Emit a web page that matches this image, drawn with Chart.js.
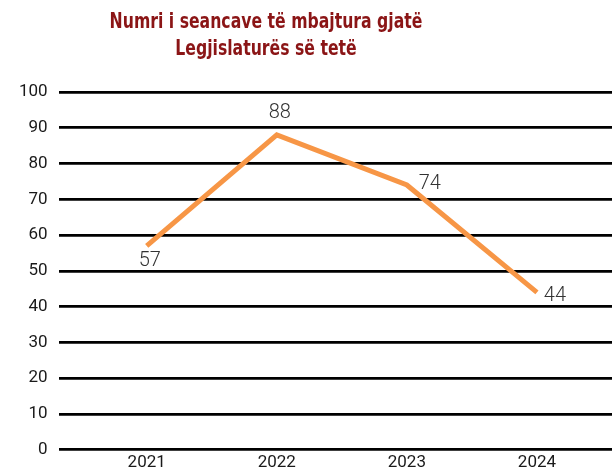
<!DOCTYPE html>
<html lang="sq">

<head>
  <meta charset="UTF-8">
  <title> Seancat | Legjislatura e tetë </title>
  <style>
    body { margin: 0; background: #fff; }
    .wrap { position: relative; width: 615px; height: 471px; }
    .titulli {
      position: absolute; left: 0; top: 8px; width: 532px;
      text-align: center; color: #8b1516;
      font-family: 'DejaVu Sans Condensed', Roboto, sans-serif;
      font-weight: bold; font-size: 21px; line-height: 27px;
      transform: scaleX(0.83); transform-origin: 50% 50%;
    }
    canvas { position: absolute; left: 0; top: 0; }
  </style>
</head>

<body>
  <div class="wrap">
    <canvas id="grafiku" width="615" height="471"></canvas>
    <div class="titulli">Numri i seancave të mbajtura gjatë<br>Legjislaturës së tetë</div>
  </div>
  <script src="https://cdn.jsdelivr.net/npm/chart.js"></script>
  <script>

    // te dhenat
    const vitet = [2021, 2022, 2023, 2024]
    const seancat = [57, 88, 74, 44]
    const tiketY = [0, 10, 20, 30, 40, 50, 60, 70, 80, 90, 100]

    // ku vendoset etiketa e cdo pike (dx, dy nga pika)
    const zhvendosjet = [[3, 15], [3, -22], [23, -1], [18, 4]]

    const etiketat = {
      id: 'etiketat',
      afterDatasetsDraw(chart) {
        const ctx = chart.ctx
        const meta = chart.getDatasetMeta(0)
        ctx.save()
        ctx.font = '300 20px Roboto'
        ctx.fillStyle = '#333'
        ctx.textAlign = 'center'
        ctx.textBaseline = 'middle'
        meta.data.forEach(function (p, i) {
          ctx.fillText(String(seancat[i]), p.x + zhvendosjet[i][0], p.y + zhvendosjet[i][1])
        })
        ctx.restore()
      }
    }

    new Chart(document.getElementById('grafiku'), {
      type: 'line',
      data: {
        datasets: [{
          data: vitet.map((v, i) => ({ x: v, y: seancat[i] })),
          borderColor: '#f79646',
          borderWidth: 5,
          borderJoinStyle: 'miter',
          pointRadius: 0,
          tension: 0,
        }]
      },
      options: {
        responsive: false,
        animation: false,
        layout: { padding: { top: 92, left: 8, right: 3, bottom: -6 } },
        plugins: { legend: { display: false }, tooltip: { enabled: false } },
        scales: {
          x: {
            type: 'linear',
            min: 2020.323,
            max: 2024.577,
            grid: { display: false, drawTicks: false },
            border: { display: false },
            afterBuildTicks: (s) => { s.ticks = vitet.map(v => ({ value: v })) },
            ticks: {
              padding: 3,
              callback: (v) => String(v),
              font: { size: 17, family: 'Roboto' },
              color: '#1a1a1a',
            }
          },
          y: {
            min: 0,
            max: 100,
            afterBuildTicks: (s) => { s.ticks = tiketY.map(v => ({ value: v })) },
            grid: { color: '#000', lineWidth: 2.8, drawTicks: false },
            border: { display: false },
            ticks: {
              padding: 11,
              font: { size: 17, family: 'Roboto' },
              color: '#1a1a1a',
            }
          }
        }
      },
      plugins: [etiketat]
    });

  </script>
</body>

</html>
